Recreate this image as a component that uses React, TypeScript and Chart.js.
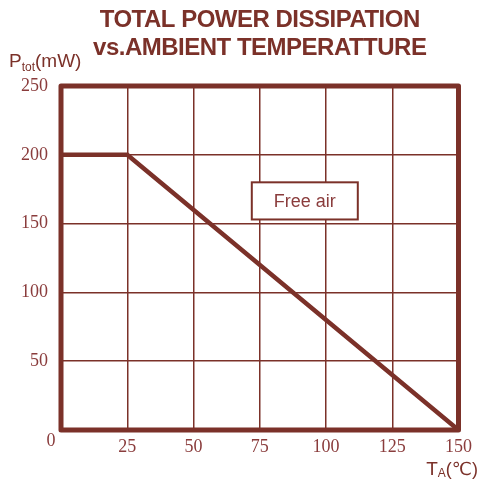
import React, { useEffect, useRef } from 'react';
import { Chart, registerables } from 'chart.js';
Chart.register(...registerables);

const titleLines = ['TOTAL POWER DISSIPATION', 'vs.AMBIENT TEMPERATTURE'];
const temperatureC = [0, 25, 150];
const powerMW = [200, 200, 0];
const xRange = [0, 150];
const yRange = [0, 250];
const xStep = 25;
const yStep = 50;
const annotationText = 'Free air';
const annotationX = [72, 112];
const annotationY = [153, 180];

const COLOR = '#7b3129';
const TICK_COLOR = '#8a3c3c';

const decorPlugin = {
  id: 'decor',
  beforeDraw(chart: any) {
    const ctx = chart.ctx;
    ctx.save();
    ctx.fillStyle = '#ffffff';
    ctx.fillRect(0, 0, chart.width, chart.height);
    ctx.restore();
  },
  afterDatasetsDraw(chart: any) {
    const { ctx, scales } = chart;
    const xs = scales.x, ys = scales.y;
    const x0 = xs.getPixelForValue(annotationX[0]);
    const x1 = xs.getPixelForValue(annotationX[1]);
    const y0 = ys.getPixelForValue(annotationY[1]);
    const y1 = ys.getPixelForValue(annotationY[0]);
    ctx.save();
    ctx.fillStyle = '#ffffff';
    ctx.fillRect(x0, y0, x1 - x0, y1 - y0);
    ctx.strokeStyle = COLOR;
    ctx.lineWidth = 2;
    ctx.strokeRect(x0, y0, x1 - x0, y1 - y0);
    ctx.fillStyle = TICK_COLOR;
    ctx.font = '18px "Liberation Sans", Arial, sans-serif';
    ctx.textAlign = 'center';
    ctx.textBaseline = 'middle';
    ctx.fillText(annotationText, (x0 + x1) / 2, (y0 + y1) / 2 + 1);
    ctx.restore();
  },
  afterDraw(chart: any) {
    const { ctx, chartArea } = chart;
    ctx.save();
    ctx.strokeStyle = COLOR;
    ctx.lineWidth = 5;
    ctx.lineJoin = 'round';
    ctx.strokeRect(chartArea.left, chartArea.top, chartArea.right - chartArea.left, chartArea.bottom - chartArea.top);
    const cx = (chartArea.left + chartArea.right) / 2;
    ctx.fillStyle = COLOR;
    ctx.font = 'bold 24px "Liberation Sans", Arial, sans-serif';
    (ctx as any).letterSpacing = '-0.5px';
    ctx.textAlign = 'center';
    ctx.textBaseline = 'alphabetic';
    ctx.fillText(titleLines[0], cx, chartArea.top - 59);
    ctx.fillText(titleLines[1], cx, chartArea.top - 31);
    (ctx as any).letterSpacing = '0px';
    ctx.textAlign = 'left';
    let x = 9;
    const yb = chartArea.top - 19;
    ctx.font = '19px "Liberation Sans", Arial, sans-serif';
    ctx.fillText('P', x, yb);
    x += ctx.measureText('P').width;
    ctx.font = '12px "Liberation Sans", Arial, sans-serif';
    ctx.fillText('tot', x, yb + 4);
    x += ctx.measureText('tot').width;
    ctx.font = '19px "Liberation Sans", Arial, sans-serif';
    ctx.fillText('(mW)', x, yb);
    ctx.textAlign = 'right';
    const xr = chart.width;
    const xb = chartArea.bottom + 45;
    ctx.font = '18px "Liberation Sans", "DejaVu Sans", sans-serif';
    const w3 = ctx.measureText('(℃)').width;
    ctx.fillText('(℃)', xr, xb);
    ctx.font = '12px "Liberation Sans", Arial, sans-serif';
    const w2 = ctx.measureText('A').width;
    ctx.fillText('A', xr - w3, xb + 2);
    ctx.font = '19px "Liberation Sans", Arial, sans-serif';
    ctx.fillText('T', xr - w3 - w2, xb);
    ctx.fillStyle = TICK_COLOR;
    ctx.font = '18px "Liberation Serif", "Times New Roman", serif';
    ctx.textAlign = 'center';
    ctx.textBaseline = 'middle';
    ctx.fillText(String(xRange[0]), chartArea.left - 10, chartArea.bottom + 11);
    ctx.restore();
  },
};

export default function App() {
  const ref = useRef<HTMLCanvasElement>(null);
  useEffect(() => {
    document.body.style.margin = '0';
    const canvas = ref.current!;
    const tickFont = { family: '"Liberation Serif", "Times New Roman", serif', size: 18 };
    const chart = new Chart(canvas, {
      type: 'line',
      data: {
        datasets: [
          {
            data: temperatureC.map((t, i) => ({ x: t, y: powerMW[i] })),
            borderColor: COLOR,
            borderWidth: 4.5,
            pointRadius: 0,
            tension: 0,
            fill: false,
          },
        ],
      },
      options: {
        animation: false,
        responsive: false,
        layout: { padding: { top: 86, right: 18, left: 0, bottom: 0 } },
        plugins: { legend: { display: false }, tooltip: { enabled: false }, title: { display: false } },
        scales: {
          x: {
            type: 'linear',
            min: xRange[0],
            max: xRange[1],
            ticks: {
              stepSize: xStep,
              color: TICK_COLOR,
              font: tickFont,
              padding: 6,
              maxRotation: 0,
              callback: (v: any) => (v === xRange[0] ? '' : String(v)),
            },
            grid: { color: COLOR, lineWidth: 1.5, drawTicks: false },
            border: { display: false },
            afterFit: (s: any) => { s.height = 49; },
          },
          y: {
            type: 'linear',
            min: yRange[0],
            max: yRange[1],
            ticks: {
              stepSize: yStep,
              color: TICK_COLOR,
              font: tickFont,
              padding: 13,
              callback: (v: any) => (v === yRange[0] ? '' : String(v)),
            },
            grid: { color: COLOR, lineWidth: 1.5, drawTicks: false },
            border: { display: false },
            afterFit: (s: any) => { s.width = 61; },
          },
        },
      },
      plugins: [decorPlugin],
    });
    return () => chart.destroy();
  }, []);
  return (
    <div style={{ width: 478, height: 479 }}>
      <canvas ref={ref} width={478} height={479} />
    </div>
  );
}
